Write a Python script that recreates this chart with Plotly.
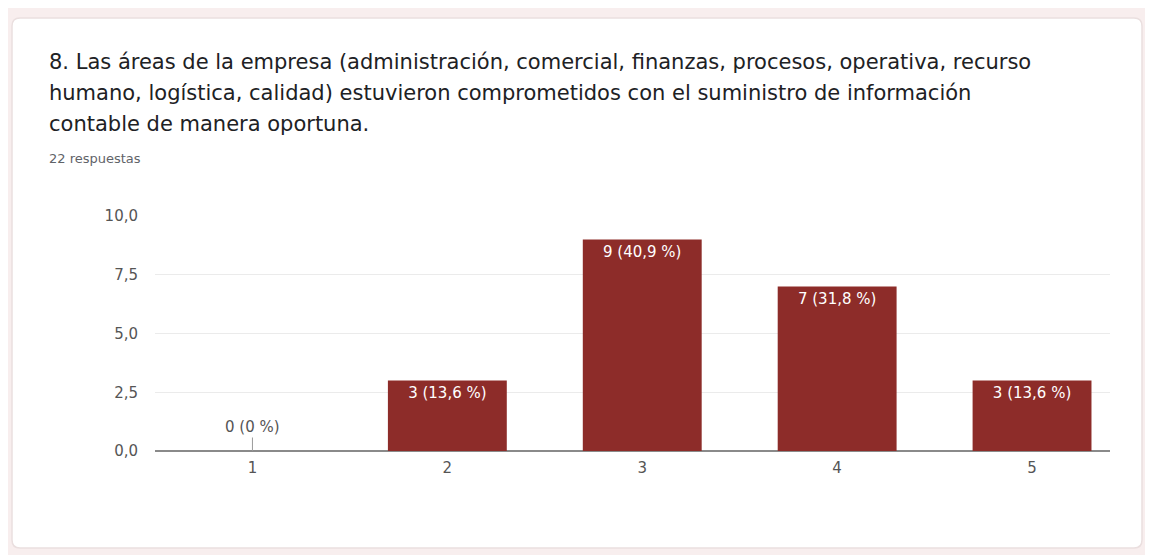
import plotly.graph_objects as go

categories = [1, 2, 3, 4, 5]
counts = [0, 3, 9, 7, 3]
bar_labels = ["0 (0 %)", "3 (13,6 %)", "9 (40,9 %)", "7 (31,8 %)", "3 (13,6 %)"]
y_ticks = [0, 2.5, 5, 7.5, 10]
title_lines = [
    "8. Las áreas de la empresa (administración, comercial, finanzas, procesos, operativa, recurso",
    "humano, logística, calidad) estuvieron comprometidos con el suministro de información",
    "contable de manera oportuna.",
]
subtitle = "22 respuestas"

# page body has an 8px margin, so the figure sits at (8, 8)
W, H = 1145, 547
L, R, T, B = 147, 43, 208, 104
PW, PH = W - L - R, H - T - B


def px(x):
    return (x - L) / PW


def py(y):
    return (H - B - y) / PH


FONT = "DejaVu Sans"

fig = go.Figure()
fig.add_trace(go.Bar(
    x=categories,
    y=counts,
    text=[t if c > 0 else "" for t, c in zip(bar_labels, counts)],
    textposition="inside",
    insidetextanchor="end",
    textangle=0,
    textfont=dict(color="white", size=15, family=FONT),
    marker=dict(color="#8d2c29", line=dict(width=0)),
    width=0.61,
    hoverinfo="skip",
))

# zero label with a little leader line
for c, v, t in zip(categories, counts, bar_labels):
    if v == 0:
        fig.add_annotation(x=c, y=v, xref="x", yref="y", text=t, showarrow=True,
                           arrowhead=0, arrowwidth=1, arrowcolor="#999999",
                           ax=0, ay=-24, standoff=0,
                           font=dict(size=15, color="#555555", family=FONT))

# card background
x0, x1 = px(4), px(1134)
y0, y1 = py(540), py(10)
rx, ry = 8 / PW, 8 / PH
path = (f"M {x0+rx},{y0} L {x1-rx},{y0} Q {x1},{y0} {x1},{y0+ry} "
        f"L {x1},{y1-ry} Q {x1},{y1} {x1-rx},{y1} L {x0+rx},{y1} "
        f"Q {x0},{y1} {x0},{y1-ry} L {x0},{y0+ry} Q {x0},{y0} {x0+rx},{y0} Z")
fig.add_shape(type="path", path=path, xref="paper", yref="paper",
              fillcolor="white", line=dict(color="#eadfdf", width=1.5), layer="below")

title_y = [54, 85, 116]
for line, yy in zip(title_lines, title_y):
    fig.add_annotation(x=px(39), y=py(yy), xref="paper", yref="paper", text=line,
                       showarrow=False, xanchor="left", yanchor="middle",
                       font=dict(size=21, color="#202124", family=FONT))
fig.add_annotation(x=px(39), y=py(150), xref="paper", yref="paper", text=subtitle,
                   showarrow=False, xanchor="left", yanchor="middle",
                   font=dict(size=13, color="#5f6368", family=FONT))

fig.update_layout(
    width=W, height=H,
    margin=dict(l=L, r=R, t=T, b=B),
    paper_bgcolor="#f8eeee",
    plot_bgcolor="white",
    separators=", ",
    showlegend=False,
    xaxis=dict(range=[0.5, 5.4], tickvals=categories, ticktext=[str(c) for c in categories],
               showgrid=False, zeroline=False, showline=False, ticks="",
               ticklabelstandoff=6,
               tickfont=dict(size=15, color="#555555", family=FONT)),
    yaxis=dict(range=[0, 10], tickvals=y_ticks, tickformat=".1f",
               showgrid=True, gridcolor="#ebebeb", gridwidth=1,
               zeroline=True, zerolinecolor="#8a8a8a", zerolinewidth=2,
               ticks="", ticklabelstandoff=16,
               tickfont=dict(size=15, color="#555555", family=FONT)),
)

fig.write_html("out.html")
